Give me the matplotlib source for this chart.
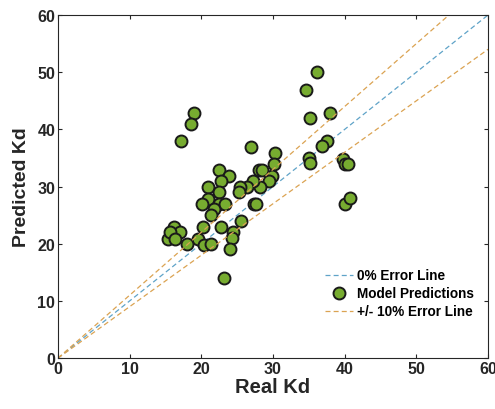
import numpy as np
import matplotlib
matplotlib.use("Agg")
import matplotlib.pyplot as plt

plt.rcParams['font.family'] = ['Liberation Sans', 'DejaVu Sans']

# real vs predicted Kd
real_kd = [36.2, 34.6, 35.2, 37.9, 37.5, 36.9, 35.0, 35.2, 39.8, 40.0, 40.5,
           40.0, 40.7, 19.0, 18.5, 17.1, 26.9, 30.3, 30.1, 29.8, 29.5, 28.1,
           28.4, 28.2, 27.2, 26.4, 27.4, 25.4, 25.3, 22.4, 23.8, 22.8, 21.0,
           22.4, 21.0, 20.1, 22.5, 23.3, 21.8, 21.4, 25.5, 20.3, 22.8, 24.4,
           24.3, 24.0, 23.1, 19.5, 20.4, 21.3, 18.0, 16.2, 17.0, 15.4, 15.6,
           16.3, 27.6]
pred_kd = [50.0, 46.9, 42.0, 42.9, 38.0, 37.1, 35.0, 34.1, 34.9, 34.0, 34.0,
           27.0, 28.0, 42.9, 41.0, 38.0, 37.0, 35.9, 33.9, 31.9, 31.0, 32.9,
           32.9, 30.0, 31.0, 30.0, 27.0, 30.0, 29.0, 32.9, 31.9, 30.9, 30.0,
           29.0, 27.9, 27.0, 27.0, 27.0, 26.0, 25.0, 24.0, 22.9, 22.9, 22.0,
           21.0, 19.1, 14.0, 20.9, 19.8, 19.9, 19.9, 22.9, 22.0, 20.9, 22.0,
           20.9, 27.0]

err_band = 0.10
x_line = np.array([0, 60])

fig = plt.figure(figsize=(4.95, 4.10), dpi=100)
ax = fig.add_axes([0.117, 0.124, 0.869, 0.837])

ax.plot(x_line, x_line, ls='--', lw=0.9, color='#5fa3c8', label='0% Error Line',
        dashes=(4, 2.5))
ax.plot(real_kd, pred_kd, 'o', ms=8.6, mfc='#77ac30', mec='#1a1a1a', mew=1.4,
        ls='none', label='Model Predictions')
ax.plot(x_line, x_line * (1 + err_band), ls='--', lw=0.9, color='#dba352',
        label='+/- 10% Error Line', dashes=(4, 2.5))
ax.plot(x_line, x_line * (1 - err_band), ls='--', lw=0.9, color='#dba352',
        dashes=(4, 2.5))

ax.set_xlim(0, 60)
ax.set_ylim(0, 60)
ax.set_xticks(range(0, 61, 10))
ax.set_yticks(range(0, 61, 10))
ax.tick_params(labelsize=11.5, length=3, direction='in', top=True, right=True,
               colors='#262626', pad=2)
for lab in ax.get_xticklabels() + ax.get_yticklabels():
    lab.set_fontweight('bold')
for s in ax.spines.values():
    s.set_color('#262626')
    s.set_linewidth(0.8)

ax.set_xlabel('Real Kd', fontsize=14.5, fontweight='bold', color='#262626', labelpad=1)
ax.set_ylabel('Predicted Kd', fontsize=14, fontweight='bold', color='#262626', labelpad=5)

leg = ax.legend(loc='lower right', bbox_to_anchor=(0.995, 0.08), frameon=False,
                prop={'weight': 'bold', 'size': 9.8}, handlelength=2.0,
                handletextpad=0.3, labelspacing=0.3)

fig.savefig('out.png', dpi=100)
